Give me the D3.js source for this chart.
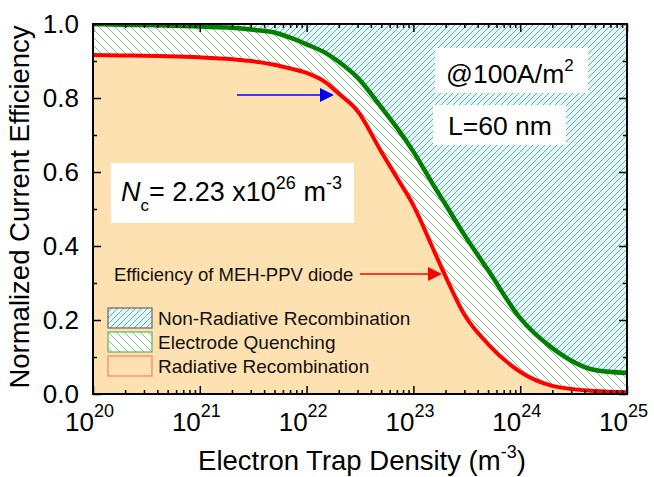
<!DOCTYPE html>
<html><head><meta charset="utf-8">
<script src="https://cdn.jsdelivr.net/npm/d3@7"></script>
<style>body{margin:0;background:#fff}svg{display:block;font-family:"Liberation Sans",Arial,sans-serif}</style>
</head><body>
<svg id="c" width="654" height="477"></svg>
<script>
// Data
const trapDensity = [1e20,2e20,5e20,1e21,2e21,3e21,5e21,7e21,1e22,1.5e22,2e22,3e22,5e22,7e22,1e23,1.5e23,2e23,3e23,5e23,1e24,2e24,5e24,1e25];
const radiative   = [0.916,0.915,0.913,0.910,0.905,0.900,0.890,0.880,0.868,0.843,0.812,0.765,0.655,0.585,0.510,0.398,0.318,0.215,0.135,0.060,0.022,0.008,0.005];
const electrode   = [1.000,0.998,0.996,0.993,0.990,0.985,0.977,0.963,0.945,0.922,0.898,0.855,0.775,0.720,0.655,0.570,0.512,0.430,0.335,0.205,0.124,0.065,0.057];
const xMajor = [1e20,1e21,1e22,1e23,1e24,1e25];
const xExp = ["20","21","22","23","24","25"];
const yMajor = [0,0.2,0.4,0.6,0.8,1.0];
const yMinor = [0.1,0.3,0.5,0.7,0.9];
const legendLabels = ["Non-Radiative Recombination","Electrode Quenching","Radiative Recombination"];

const L=93,R=627,T=24,B=394;
const svg=d3.select("#c");
const x=d3.scaleLog().domain([1e20,1e25]).range([L,R]);
const y=d3.scaleLinear().domain([0,1]).range([B,T]);
const xMinor=[];
for(let e=20;e<25;e++) for(let k=2;k<=9;k++) xMinor.push(k*Math.pow(10,e));

const defs=svg.append("defs");
defs.append("clipPath").attr("id","clip").append("rect").attr("x",L).attr("y",T).attr("width",R-L).attr("height",B-T);
const pc=defs.append("pattern").attr("id","hatchC").attr("patternUnits","userSpaceOnUse").attr("width",6).attr("height",6);
pc.append("rect").attr("width",6).attr("height",6).attr("fill","#dcfcfc");
pc.append("path").attr("d","M-1,1 L1,-1 M0,6 L6,0 M5,7 L7,5").attr("stroke","#707070").attr("stroke-width",0.7);
const pg=defs.append("pattern").attr("id","hatchG").attr("patternUnits","userSpaceOnUse").attr("width",8).attr("height",8);
pg.append("rect").attr("width",8).attr("height",8).attr("fill","#fff");
pg.append("path").attr("d","M-1,7 L1,9 M0,0 L8,8 M7,-1 L9,1").attr("stroke","#5fb35f").attr("stroke-width",0.8);

const data=trapDensity.map((d,i)=>({x:d,r:radiative[i],g:electrode[i]}));
const cv=d3.curveMonotoneX;
const plot=svg.append("g").attr("clip-path","url(#clip)");
plot.append("path").datum(data).attr("fill","url(#hatchC)")
  .attr("d",d3.area().curve(cv).x(d=>x(d.x)).y0(y(1)).y1(d=>y(d.g)));
plot.append("path").datum(data).attr("fill","url(#hatchG)")
  .attr("d",d3.area().curve(cv).x(d=>x(d.x)).y0(d=>y(d.g)).y1(d=>y(d.r)));
plot.append("path").datum(data).attr("fill","#fee1b1")
  .attr("d",d3.area().curve(cv).x(d=>x(d.x)).y0(y(0)).y1(d=>y(d.r)));
plot.append("path").datum(data).attr("fill","none").attr("stroke","#008000").attr("stroke-width",4.5).attr("stroke-linejoin","round")
  .attr("d",d3.line().curve(cv).x(d=>x(d.x)).y(d=>y(d.g)));
plot.append("path").datum(data).attr("fill","none").attr("stroke","#ff0000").attr("stroke-width",4).attr("stroke-linejoin","round")
  .attr("d",d3.line().curve(cv).x(d=>x(d.x)).y(d=>y(d.r)));

// Axes
function styleAxis(g){g.select(".domain").remove();g.selectAll("line").attr("stroke","#000").attr("stroke-width",1.5);}
svg.append("g").attr("transform",`translate(0,${B})`).call(d3.axisBottom(x).tickValues(xMajor).tickSize(-8).tickFormat("")).call(styleAxis);
svg.append("g").attr("transform",`translate(0,${B})`).call(d3.axisBottom(x).tickValues(xMinor).tickSize(-4).tickFormat("")).call(styleAxis);
svg.append("g").attr("transform",`translate(0,${T})`).call(d3.axisTop(x).tickValues(xMajor).tickSize(-8).tickFormat("")).call(styleAxis);
svg.append("g").attr("transform",`translate(0,${T})`).call(d3.axisTop(x).tickValues(xMinor).tickSize(-4).tickFormat("")).call(styleAxis);
const yl=svg.append("g").attr("transform",`translate(${L},0)`).call(d3.axisLeft(y).tickValues(yMajor).tickSize(-8).tickPadding(14).tickFormat(d3.format(".1f"))).call(styleAxis);
yl.selectAll("text").attr("font-size",26).attr("fill","#000").attr("font-family","Liberation Sans, Arial, sans-serif");
svg.append("g").attr("transform",`translate(${L},0)`).call(d3.axisLeft(y).tickValues(yMinor).tickSize(-4).tickFormat("")).call(styleAxis);
svg.append("g").attr("transform",`translate(${R},0)`).call(d3.axisRight(y).tickValues(yMajor).tickSize(-8).tickFormat("")).call(styleAxis);
svg.append("g").attr("transform",`translate(${R},0)`).call(d3.axisRight(y).tickValues(yMinor).tickSize(-4).tickFormat("")).call(styleAxis);
svg.append("rect").attr("x",L).attr("y",T).attr("width",R-L).attr("height",B-T).attr("fill","none").attr("stroke","#000").attr("stroke-width",2);

// x tick labels
const xl=svg.append("g");
xMajor.forEach((v,i)=>{
  xl.append("text").attr("x",x(v)+1).attr("y",431).attr("font-size",26).attr("text-anchor","end").text("10");
  xl.append("text").attr("x",x(v)+1).attr("y",417).attr("font-size",18).text(xExp[i]);
});

// axis titles
const xt=svg.append("text").attr("x",362).attr("y",470).attr("font-size",27.5).attr("text-anchor","middle");
xt.append("tspan").text("Electron Trap Density (m");
xt.append("tspan").attr("font-size",18).attr("dy",-12).text("-3");
xt.append("tspan").attr("dy",12).text(")");
svg.append("text").attr("transform","translate(29,207) rotate(-90)").attr("font-size",27.5).attr("text-anchor","middle").text("Normalized Current Efficiency");

// annotation boxes
svg.append("rect").attr("x",435).attr("y",48).attr("width",153).attr("height",45).attr("fill","#fff");
svg.append("rect").attr("x",433).attr("y",105).attr("width",133).attr("height",40).attr("fill","#fff");
svg.append("rect").attr("x",111).attr("y",163).attr("width",243).attr("height",60).attr("fill","#fff");
const a1=svg.append("text").attr("x",446).attr("y",83).attr("font-size",26.5);
a1.append("tspan").text("@100A/m");
a1.append("tspan").attr("font-size",17).attr("dy",-12).text("2");
svg.append("text").attr("x",448).attr("y",135).attr("font-size",26.5).text("L=60 nm");
const nc=svg.append("text").attr("x",121).attr("y",201).attr("font-size",27);
nc.append("tspan").attr("font-style","italic").text("N");
nc.append("tspan").attr("font-size",17).attr("dy",10).text("c");
nc.append("tspan").attr("dy",-10).text("= 2.23 x10");
nc.append("tspan").attr("font-size",18).attr("dy",-12).text("26");
nc.append("tspan").attr("dy",12).text(" m");
nc.append("tspan").attr("font-size",18).attr("dy",-12).text("-3");

svg.append("text").attr("x",114).attr("y",281).attr("font-size",18.5).attr("fill","#111").text("Efficiency of MEH-PPV diode");

// arrows
function arrow(x1,x2,yy,col){
  svg.append("line").attr("x1",x1).attr("x2",x2-12).attr("y1",yy).attr("y2",yy).attr("stroke",col).attr("stroke-width",1.6);
  svg.append("path").attr("d",`M${x2},${yy} L${x2-14},${yy-7} L${x2-14},${yy+7} Z`).attr("fill",col);
}
arrow(237,334,95,"#0000ff");
arrow(360,442,274,"#ff0000");

// legend
const lg=svg.append("g");
const fills=["url(#hatchC)","url(#hatchG)","#fee1b1"];
const strokes=["#666","#5cb85c","#f88070"];
legendLabels.forEach((s,i)=>{
  const yy=308+i*24;
  lg.append("rect").attr("x",108).attr("y",yy).attr("width",44).attr("height",20).attr("fill",fills[i]).attr("stroke",strokes[i]).attr("stroke-width",1.2);
  lg.append("text").attr("x",158).attr("y",yy+17).attr("font-size",19).attr("fill","#111").text(s);
});
</script>
</body></html>
